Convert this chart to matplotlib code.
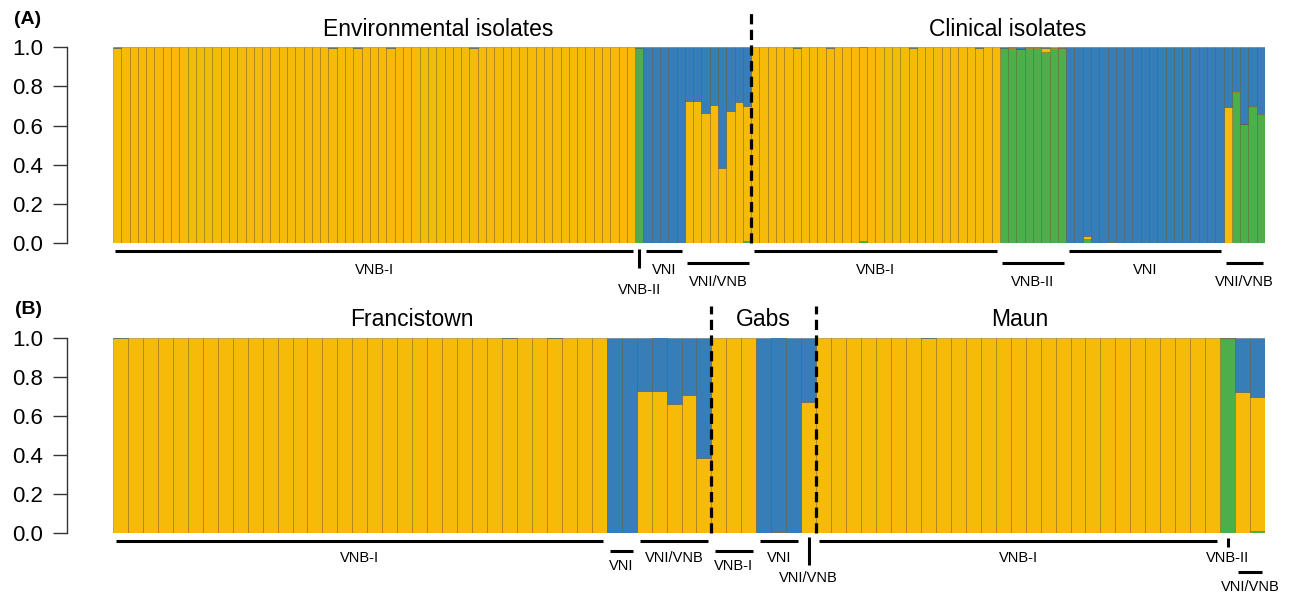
"""STRUCTURE-style ancestry barplot: (A) environmental vs clinical, (B) by location."""
import numpy as np
import matplotlib
matplotlib.use('Agg')
import matplotlib.pyplot as plt

plt.rcParams['font.family'] = ['Liberation Sans', 'DejaVu Sans']

YELLOW = '#F6BA08'   # VNB-I cluster
BLUE = '#377EB8'     # VNI cluster
GREEN = '#4DAF4A'    # VNB-II cluster

# ──────────────────────────────────────────────────────────────────────
# Panel A data: per-isolate membership (blue = remainder)
# ──────────────────────────────────────────────────────────────────────
# environmental isolates: VNB-I (63), VNB-II (1), VNI (5), VNI/VNB (8)
a_env_yellow = [
    0.998, 1.0, 1.0, 1.0, 1.0, 1.0, 1.0, 1.0, 1.0, 1.0, 1.0, 1.0, 1.0, 1.0, 1.0, 1.0,
    1.0, 1.0, 1.0, 1.0, 1.0, 1.0, 1.0, 1.0, 1.0, 1.0, 0.998, 1.0, 1.0, 0.998, 1.0, 1.0,
    1.0, 0.998, 1.0, 1.0, 1.0, 1.0, 1.0, 1.0, 1.0, 1.0, 1.0, 0.998, 1.0, 1.0, 1.0, 1.0,
    1.0, 1.0, 1.0, 1.0, 1.0, 1.0, 1.0, 1.0, 1.0, 1.0, 1.0, 1.0, 1.0, 1.0, 1.0,
    0.0,
    0.0, 0.0, 0.0, 0.0, 0.0,
    0.727, 0.724, 0.662, 0.705, 0.384, 0.672, 0.722, 0.690,
]
a_env_green = [
    0.0, 0.0, 0.0, 0.0, 0.0, 0.0, 0.0, 0.0, 0.0, 0.0, 0.0, 0.0, 0.0, 0.0, 0.0, 0.0,
    0.0, 0.0, 0.0, 0.0, 0.0, 0.0, 0.0, 0.0, 0.0, 0.0, 0.0, 0.0, 0.0, 0.0, 0.0, 0.0,
    0.0, 0.0, 0.0, 0.0, 0.0, 0.0, 0.0, 0.0, 0.0, 0.0, 0.0, 0.0, 0.0, 0.0, 0.0, 0.0,
    0.0, 0.0, 0.0, 0.0, 0.0, 0.0, 0.0, 0.0, 0.0, 0.0, 0.0, 0.0, 0.0, 0.0, 0.0,
    0.995,
    0.0, 0.0, 0.0, 0.0, 0.0,
    0.0, 0.0, 0.0, 0.0, 0.0, 0.0, 0.0, 0.008,
]
# clinical isolates: VNB-I (30), VNB-II (8), VNI (19), VNI/VNB (5)
a_cli_yellow = [
    1.0, 1.0, 1.0, 1.0, 1.0, 0.998, 1.0, 1.0, 1.0, 0.998, 1.0, 1.0, 1.0, 0.992, 1.0,
    1.0, 1.0, 1.0, 1.0, 0.998, 1.0, 1.0, 1.0, 1.0, 1.0, 1.0, 1.0, 0.998, 1.0, 1.0,
    0.0, 0.004, 0.003, 0.004, 0.004, 0.02, 0.003, 0.005,
    0.0, 0.0, 0.018, 0.0, 0.0, 0.005, 0.0, 0.0, 0.0, 0.0, 0.0, 0.0, 0.0, 0.0, 0.0,
    0.0, 0.0, 0.0, 0.0,
    0.696, 0.005, 0.004, 0.005, 0.005,
]
a_cli_green = [
    0.0, 0.0, 0.0, 0.0, 0.0, 0.0, 0.0, 0.0, 0.0, 0.0, 0.0, 0.0, 0.0, 0.008, 0.0,
    0.0, 0.0, 0.0, 0.0, 0.0, 0.0, 0.0, 0.0, 0.0, 0.0, 0.0, 0.0, 0.0, 0.0, 0.0,
    0.997, 0.995, 0.99, 0.995, 0.995, 0.975, 0.997, 0.99,
    0.0, 0.0, 0.02, 0.0, 0.0, 0.0, 0.0, 0.0, 0.0, 0.0, 0.0, 0.0, 0.0, 0.0, 0.0,
    0.0, 0.0, 0.0, 0.0,
    0.0, 0.770, 0.606, 0.693, 0.652,
]

# ──────────────────────────────────────────────────────────────────────
# Panel B data: environmental isolates by location
# ──────────────────────────────────────────────────────────────────────
# Francistown: VNB-I (33), VNI (2), VNI/VNB (5)
b_fra_yellow = [
    0.998, 1.0, 1.0, 1.0, 1.0, 1.0, 1.0, 1.0, 1.0, 1.0, 1.0, 1.0, 1.0, 1.0, 1.0, 1.0,
    1.0, 1.0, 1.0, 1.0, 1.0, 1.0, 1.0, 1.0, 1.0, 1.0, 0.998, 1.0, 1.0, 0.998, 1.0, 1.0,
    1.0,
    0.0, 0.0,
    0.727, 0.724, 0.662, 0.705, 0.384,
]
b_fra_green = [
    0.0, 0.0, 0.0, 0.0, 0.0, 0.0, 0.0, 0.0, 0.0, 0.0, 0.0, 0.0, 0.0, 0.0, 0.0, 0.0,
    0.0, 0.0, 0.0, 0.0, 0.0, 0.0, 0.0, 0.0, 0.0, 0.0, 0.0, 0.0, 0.0, 0.0, 0.0, 0.0,
    0.0,
    0.0, 0.0,
    0.0, 0.0, 0.0, 0.0, 0.0,
]
# Gabs: VNB-I (3), VNI (3), VNI/VNB (1)
b_gab_yellow = [1.0, 1.0, 1.0, 0.0, 0.004, 0.0, 0.672]
b_gab_green = [0.0, 0.0, 0.0, 0.0, 0.0, 0.0, 0.0]
# Maun: VNB-I (27), VNB-II (1), VNI/VNB (2)
b_mau_yellow = [
    1.0, 1.0, 1.0, 1.0, 1.0, 1.0, 1.0, 0.998, 1.0, 1.0, 1.0, 1.0, 1.0, 1.0, 1.0,
    1.0, 1.0, 1.0, 1.0, 1.0, 1.0, 1.0, 1.0, 1.0, 1.0, 1.0, 1.0,
    0.005,
    0.722, 0.690,
]
b_mau_green = [
    0.0, 0.0, 0.0, 0.0, 0.0, 0.0, 0.0, 0.0, 0.0, 0.0, 0.0, 0.0, 0.0, 0.0, 0.0,
    0.0, 0.0, 0.0, 0.0, 0.0, 0.0, 0.0, 0.0, 0.0, 0.0, 0.0, 0.0,
    0.99,
    0.0, 0.008,
]

# group annotations: (label, first bar, last bar + 1, style)
a_groups = [('VNB-I', 0, 63, 'row1'), ('VNB-II', 63, 64, 'tick'),
            ('VNI', 64, 69, 'row1'), ('VNI/VNB', 69, 77, 'row2'),
            ('VNB-I', 77, 107, 'row1'), ('VNB-II', 107, 115, 'row2'),
            ('VNI', 115, 134, 'row1'), ('VNI/VNB', 134, 139, 'row2')]
b_groups = [('VNB-I', 0, 33, 'row1'), ('VNI', 33, 35, 'row2'),
            ('VNI/VNB', 35, 40, 'row1'), ('VNB-I', 40, 43, 'row2'),
            ('VNI', 43, 46, 'row1'), ('VNI/VNB', 46, 47, 'tick_long'),
            ('VNB-I', 47, 74, 'row1'), ('VNB-II', 74, 75, 'tick_short'),
            ('VNI/VNB', 75, 77, 'row3')]

# pixel offsets below the axis: line y, label y, (tick y0, y1)
A_STYLE = {'row1': (7.7, 27.0), 'row2': (20.3, 39.0), 'tick': (None, 46.5, (6, 25))}
B_STYLE = {'row1': (7.7, 24.5), 'row2': (17.7, 33.5), 'row3': (38.7, 54.0),
           'tick_long': (None, 44.5, (4, 32)), 'tick_short': (None, 25.0, (5, 14))}

W, H = 1289, 592
fig = plt.figure(figsize=(W / 100, H / 100), dpi=100)


def structure_panel(rect, yellow, green, groups, style, pad, dashes, titles):
    ax = fig.add_axes(rect)
    yellow = np.asarray(yellow)
    green = np.asarray(green)
    blue = np.clip(1.0 - yellow - green, 0, None)
    n = len(yellow)
    x = np.arange(n) + 0.5
    edge = (0.25, 0.18, 0.0, 0.35)
    bottom = np.zeros(n)
    for vals, col in [(green, GREEN), (yellow, YELLOW), (blue, BLUE)]:
        m = vals > 0
        ax.bar(x[m], vals[m], width=1.0, bottom=bottom[m], color=col,
               edgecolor=edge, linewidth=0.6)
        bottom = bottom + vals

    ax.set_xlim(0, n)
    ax.set_ylim(0, 1)
    ax.set_xticks([])
    ax.set_yticks([0, 0.2, 0.4, 0.6, 0.8, 1.0])
    ax.set_yticklabels(['0.0', '0.2', '0.4', '0.6', '0.8', '1.0'])
    for s in ['top', 'right', 'bottom']:
        ax.spines[s].set_visible(False)
    ax.spines['left'].set_position(('outward', 33.1))
    ax.spines['left'].set_linewidth(1.0)
    ax.spines['left'].set_color('#333333')
    ax.tick_params(axis='y', length=10, width=1.0, color='#333333',
                   labelsize=16, pad=7)

    hpx = rect[3] * H
    tr = ax.get_xaxis_transform()
    for lab, a, b, st in groups:
        spec = style[st]
        if len(spec) == 2:
            ly, ty = spec
            ax.plot([a + pad, b - pad], [-ly / hpx] * 2, color='black', lw=2.2,
                    solid_capstyle='butt', transform=tr, clip_on=False)
        else:
            _, ty, (t0, t1) = spec
            xc = (a + b) / 2
            ax.plot([xc, xc], [-t0 / hpx, -t1 / hpx], color='black', lw=2.2,
                    solid_capstyle='butt', transform=tr, clip_on=False)
        ax.text((a + b) / 2, -ty / hpx, lab, transform=tr, ha='center',
                va='center', fontsize=10.5)

    for xd, top_px in dashes:
        ax.plot([xd, xd], [0, 1 + top_px / hpx], color='black', lw=2.3,
                linestyle=(0, (3.2, 1.7)), transform=tr, clip_on=False, zorder=5)

    for xt, lab in titles:
        ax.text(xt, 1 + 17.5 / hpx, lab, transform=tr, ha='center',
                va='center', fontsize=16.5)
    return ax


# pixel layout: bars span x 113..1265
left, width = 113 / W, 1152 / W
structure_panel([left, (H - 243) / H, width, 195.7 / H],
                a_env_yellow + a_cli_yellow, a_env_green + a_cli_green,
                a_groups, A_STYLE, 0.3, [(77, 35)],
                [(39.2, 'Environmental isolates'), (108, 'Clinical isolates')])
structure_panel([left, (H - 533) / H, width, 195.5 / H],
                b_fra_yellow + b_gab_yellow + b_mau_yellow,
                b_fra_green + b_gab_green + b_mau_green,
                b_groups, B_STYLE, 0.22, [(40, 32), (47, 32)],
                [(20, 'Francistown'), (43.5, 'Gabs'), (60.6, 'Maun')])

fig.text(28 / W, 1 - 20 / H, '(A)', fontsize=14, fontweight='bold',
         ha='center', va='center')
fig.text(28 / W, 1 - 309 / H, '(B)', fontsize=14, fontweight='bold',
         ha='center', va='center')

fig.savefig('out.png', dpi=100)
